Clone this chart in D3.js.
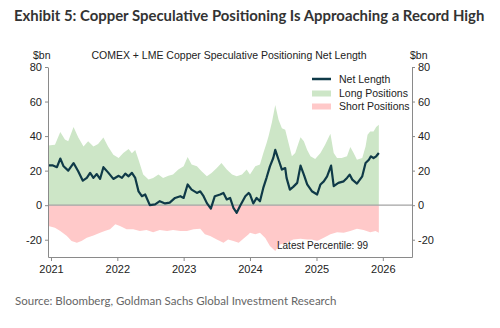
<!DOCTYPE html>
<html>
<head>
<meta charset="utf-8">
<script src="https://cdn.jsdelivr.net/npm/d3@7"></script>
<style>
  body { margin: 0; background: #fff; }
  svg { display: block; }
</style>
</head>
<body>
<svg id="chart" width="500" height="328"></svg>
<script>
// values, dates as decimal years
const longDates = [2020.96, 2021.06, 2021.14, 2021.21, 2021.26, 2021.34, 2021.41, 2021.49, 2021.56, 2021.64,
  2021.71, 2021.79, 2021.86, 2021.94, 2022.02, 2022.09, 2022.17, 2022.22, 2022.27, 2022.32,
  2022.39, 2022.47, 2022.54, 2022.62, 2022.69, 2022.77, 2022.84, 2022.92, 2023.00, 2023.06,
  2023.12, 2023.20, 2023.27, 2023.35, 2023.42, 2023.50, 2023.57, 2023.65, 2023.73, 2023.80,
  2023.88, 2023.95, 2024.00, 2024.08, 2024.15, 2024.20, 2024.25, 2024.28, 2024.33, 2024.38,
  2024.43, 2024.48, 2024.53, 2024.58, 2024.63, 2024.68, 2024.73, 2024.76, 2024.81, 2024.86,
  2024.91, 2024.98, 2025.06, 2025.13, 2025.21, 2025.26, 2025.31, 2025.38, 2025.46, 2025.51,
  2025.56, 2025.61, 2025.69, 2025.74, 2025.77, 2025.81, 2025.86, 2025.90, 2025.94];
const longValues = [34.6, 35, 42.3, 38, 37, 45.2, 39.4, 34, 37, 34,
  35.4, 39.2, 34, 29.2, 27.3, 30.2, 32.5, 30, 32, 26.3,
  17.7, 14.8, 15.8, 17.7, 15.8, 17, 17.7, 20.6, 22.5, 27.9,
  23.5, 22.5, 19.6, 16.7, 18.7, 21.5, 24.4, 20.6, 17.7, 16.7,
  17.7, 20.6, 17.7, 22.5, 23.5, 30, 36, 40, 48, 58,
  49.4, 44.6, 43.6, 36, 28.3, 30.2, 36, 39.4, 37, 32,
  28.3, 26.7, 30.2, 35, 41.3, 30.2, 27.3, 27.3, 28.3, 33.7,
  30.2, 26.3, 27.3, 34, 40.8, 42.7, 42.7, 45.2, 46.5];

const shortDates = [2020.96, 2021.06, 2021.14, 2021.24, 2021.31, 2021.39, 2021.46, 2021.54, 2021.64, 2021.74,
  2021.81, 2021.89, 2021.97, 2022.04, 2022.14, 2022.24, 2022.34, 2022.44, 2022.54, 2022.64,
  2022.75, 2022.84, 2022.95, 2023.05, 2023.15, 2023.25, 2023.32, 2023.40, 2023.50, 2023.60,
  2023.67, 2023.75, 2023.83, 2023.90, 2023.98, 2024.00, 2024.08, 2024.15, 2024.23, 2024.30,
  2024.38, 2024.45, 2024.55, 2024.65, 2024.76, 2024.86, 2024.93, 2025.01, 2025.11, 2025.21,
  2025.31, 2025.41, 2025.51, 2025.61, 2025.71, 2025.81, 2025.89, 2025.94];
const shortValues = [-12.1, -13, -15, -17.9, -20.8, -21.7, -20.8, -18.8, -17.5, -15.9,
  -15, -14, -11.1, -12.1, -14, -14, -15, -14.4, -15.6, -14.4,
  -15, -14.4, -15, -15, -14, -13.6, -16.9, -17.9, -19.8, -21.7,
  -19.8, -20.8, -21.7, -19.4, -16.9, -15.9, -16.9, -15.9, -19, -23.6,
  -26.5, -22.7, -21.7, -19.8, -19.4, -19.8, -19.8, -20.8, -18.8, -16.9,
  -15.6, -15.9, -15, -13.6, -14.4, -15.6, -15, -15.9];

const netDates = [2020.96, 2021.03, 2021.09, 2021.14, 2021.19, 2021.26, 2021.34, 2021.41, 2021.48, 2021.54,
  2021.59, 2021.64, 2021.69, 2021.74, 2021.79, 2021.86, 2021.94, 2022.02, 2022.07, 2022.12,
  2022.17, 2022.22, 2022.27, 2022.32, 2022.37, 2022.42, 2022.49, 2022.57, 2022.64, 2022.72,
  2022.79, 2022.87, 2022.95, 2023.00, 2023.06, 2023.12, 2023.20, 2023.25, 2023.30, 2023.35,
  2023.41, 2023.47, 2023.55, 2023.60, 2023.65, 2023.70, 2023.75, 2023.80, 2023.85, 2023.93,
  2023.98, 2024.00, 2024.05, 2024.10, 2024.15, 2024.20, 2024.25, 2024.30, 2024.35, 2024.38,
  2024.43, 2024.48, 2024.53, 2024.55, 2024.60, 2024.65, 2024.71, 2024.76, 2024.81, 2024.86,
  2024.93, 2025.01, 2025.06, 2025.11, 2025.16, 2025.22, 2025.26, 2025.33, 2025.41, 2025.46,
  2025.50, 2025.54, 2025.61, 2025.69, 2025.74, 2025.79, 2025.82, 2025.86, 2025.90, 2025.94];
const netValues = [23, 23, 22, 27, 22.5, 20, 24.4, 19.6, 14.2, 15.8,
  18.7, 15.8, 18, 15.2, 22, 19, 15.2, 17, 15.8, 18.3,
  16.7, 18.7, 15.8, 8, 5.2, 6.2, 0, 0.5, 2.3, 1,
  1.5, 4.2, 5.2, 4.2, 12, 9, 7.1, 8, 5.2, 1.2,
  -2, 5.2, 6.2, 7.1, 3.3, 4.2, -1.5, -4.4, -0.5, 5.2,
  7.1, 6.2, 1, 4.2, 2.3, 10, 16, 22.5, 27.3, 32,
  26.3, 20.6, 21.5, 15.8, 9, 10.6, 12.9, 22.9, 17.7, 12,
  8.1, 6.2, 12, 13.8, 16.7, 22.9, 11, 12.9, 13.8, 15.8,
  17.7, 14.8, 12.5, 16.7, 24.4, 26.3, 28.3, 27.3, 28.3, 30.2];

const yTicks = [-20, 0, 20, 40, 60, 80];
const yearTicks = [2021, 2022, 2023, 2024, 2025, 2026];
const legendLabels = ["Net Length", "Long Positions", "Short Positions"];

function toDate(v) {
    const yr = Math.floor(v);
    const a = new Date(yr, 0, 1), b = new Date(yr + 1, 0, 1);
    return new Date(+a + (v - yr) * (b - a));
}

const svg = d3.select("#chart");
const plotLeft = 48, plotRight = 412, plotTop = 67, plotBottom = 257;
const fontArial = "Liberation Sans, Arial, sans-serif";
const axisColor = "#8a8a8a";

const x = d3.scaleTime()
    .domain([toDate(2020.955), toDate(2026.44)])
    .range([plotLeft, plotRight]);
const y = d3.scaleLinear()
    .domain([-30, 80])
    .range([plotBottom, plotTop]);

const longData = longDates.map((d, i) => ({date: toDate(d), value: longValues[i]}));
const shortData = shortDates.map((d, i) => ({date: toDate(d), value: shortValues[i]}));
const netData = netDates.map((d, i) => ({date: toDate(d), value: netValues[i]}));

// title
svg.append("text")
    .attr("x", 14)
    .attr("y", 21)
    .style("font-family", "Lato, sans-serif")
    .style("font-weight", "700")
    .style("font-size", "14.9px")
    .style("fill", "#333")
    .text("Exhibit 5: Copper Speculative Positioning Is Approaching a Record High");

svg.append("text")
    .attr("x", 229)
    .attr("y", 59)
    .attr("text-anchor", "middle")
    .style("font-family", fontArial)
    .style("font-size", "10.5px")
    .style("fill", "#222")
    .text("COMEX + LME Copper Speculative Positioning Net Length");

svg.append("text").attr("x", 33).attr("y", 59)
    .style("font-family", fontArial).style("font-size", "10.5px").style("fill", "#222")
    .text("$bn");
svg.append("text").attr("x", 410).attr("y", 59)
    .style("font-family", fontArial).style("font-size", "10.5px").style("fill", "#222")
    .text("$bn");

// areas
const area = d3.area()
    .x(d => x(d.date))
    .y0(y(0))
    .y1(d => y(d.value));

svg.append("path")
    .datum(longData)
    .attr("fill", "#cde6c7")
    .attr("d", area);

svg.append("path")
    .datum(shortData)
    .attr("fill", "#ffc9c9")
    .attr("d", area);

// zero line
svg.append("line")
    .attr("x1", plotLeft).attr("x2", plotRight)
    .attr("y1", y(0)).attr("y2", y(0))
    .attr("stroke", "#a3a3a3")
    .attr("stroke-width", 1.3);

// net line
const line = d3.line()
    .x(d => x(d.date))
    .y(d => y(d.value));

svg.append("path")
    .datum(netData)
    .attr("fill", "none")
    .attr("stroke", "#0f3a48")
    .attr("stroke-width", 2.2)
    .attr("stroke-linejoin", "round")
    .attr("d", line);

// axes
function styleAxis(g) {
    g.select(".domain").attr("stroke", axisColor);
    g.selectAll(".tick line").attr("stroke", axisColor);
    g.selectAll(".tick text")
        .style("font-family", fontArial)
        .style("font-size", "11px")
        .style("fill", "#222");
}

svg.append("g")
    .attr("transform", `translate(${plotLeft},0)`)
    .call(d3.axisLeft(y).tickValues(yTicks).tickFormat(d => String(d)).tickSize(3).tickSizeOuter(0).tickPadding(3))
    .call(styleAxis);

svg.append("g")
    .attr("transform", `translate(${plotRight},0)`)
    .call(d3.axisRight(y).tickValues(yTicks).tickFormat(d => String(d)).tickSize(3).tickSizeOuter(0).tickPadding(3))
    .call(styleAxis);

svg.append("g")
    .attr("transform", `translate(0,${plotBottom})`)
    .call(d3.axisBottom(x).tickValues(yearTicks.map(toDate)).tickFormat(d3.timeFormat("%Y")).tickSize(4).tickSizeOuter(0).tickPadding(4))
    .call(styleAxis);

// legend
const legend = svg.append("g");
legend.append("line")
    .attr("x1", 312).attr("x2", 331)
    .attr("y1", 79).attr("y2", 79)
    .attr("stroke", "#0f3a48")
    .attr("stroke-width", 2.5);
legend.append("rect")
    .attr("x", 312).attr("y", 90.5).attr("width", 19).attr("height", 6)
    .attr("fill", "#cde6c7");
legend.append("rect")
    .attr("x", 312).attr("y", 103.5).attr("width", 19).attr("height", 6)
    .attr("fill", "#ffc9c9");
legendLabels.forEach((label, i) => {
    legend.append("text")
        .attr("x", 339)
        .attr("y", 83 + i * 13.5)
        .style("font-family", fontArial)
        .style("font-size", "10.5px")
        .style("fill", "#222")
        .text(label);
});

svg.append("text")
    .attr("x", 277)
    .attr("y", 249)
    .style("font-family", fontArial)
    .style("font-size", "10px")
    .style("fill", "#222")
    .text("Latest Percentile: 99");

// source
svg.append("text")
    .attr("x", 15)
    .attr("y", 305)
    .style("font-family", "Lato, sans-serif")
    .style("font-size", "11.5px")
    .style("fill", "#666")
    .text("Source: Bloomberg, Goldman Sachs Global Investment Research");
</script>
</body>
</html>
